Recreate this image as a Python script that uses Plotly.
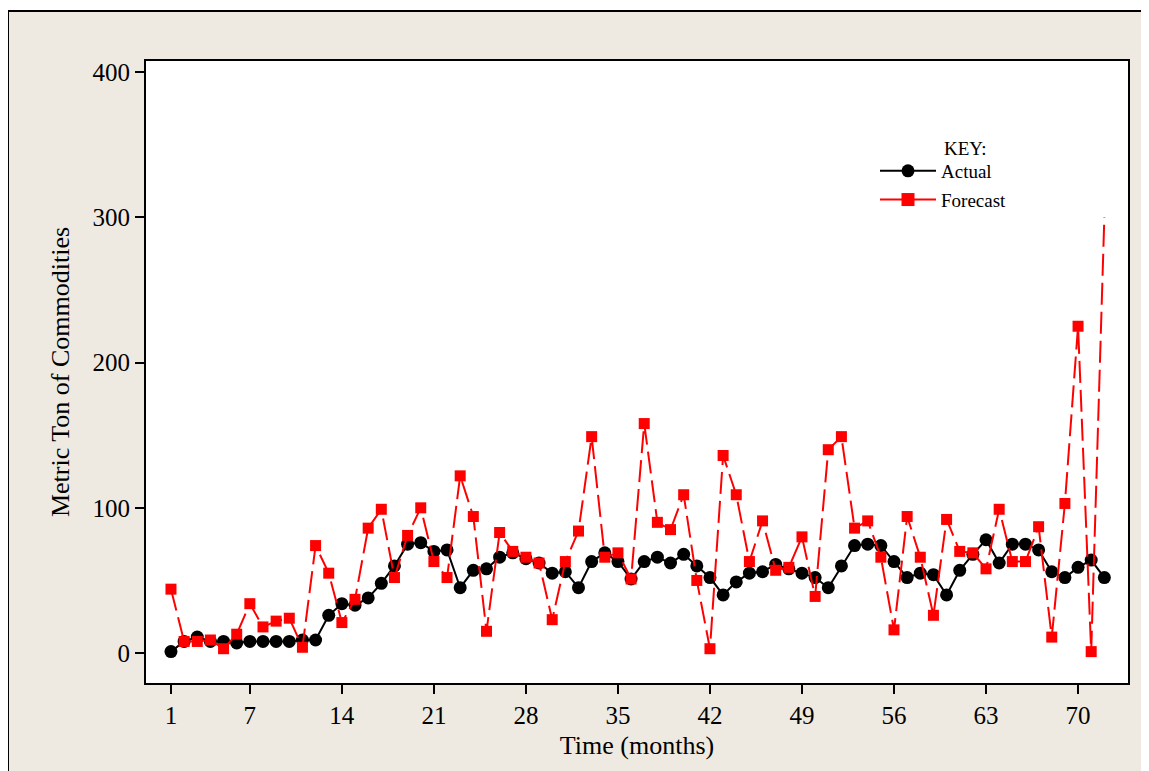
import plotly.graph_objects as go

months = list(range(1, 73))
actual = [1, 8, 11, 8, 8, 7, 8, 8, 8, 8, 9, 9,
          26, 34, 33, 38, 48, 60, 75, 76, 70, 71, 45, 57,
          58, 66, 69, 65, 62, 55, 56, 45, 63, 69, 63, 51,
          63, 66, 62, 68, 60, 52, 40, 49, 55, 56, 61, 58,
          55, 52, 45, 60, 74, 75, 74, 63, 52, 55, 54, 40,
          57, 68, 78, 62, 75, 75, 71, 56, 52, 59, 64, 52]
forecast = [44, 8, 8, 9, 3, 13, 34, 18, 22, 24, 4, 74,
            55, 21, 37, 86, 99, 52, 81, 100, 63, 52, 122, 94,
            15, 83, 70, 66, 62, 23, 63, 84, 149, 66, 69, 51,
            158, 90, 85, 109, 50, 3, 136, 109, 63, 91, 57, 59,
            80, 39, 140, 149, 86, 91, 66, 16, 94, 66, 26, 92,
            70, 69, 58, 99, 63, 63, 87, 11, 103, 225, 1, 300]
x_ticks = [1, 7, 14, 21, 28, 35, 42, 49, 56, 63, 70]
y_ticks = [0, 100, 200, 300, 400]

FONT = "Liberation Serif, Times New Roman, serif"
BEIGE = "#EEEAE1"
RED = "#FF0000"

fig = go.Figure()
fig.add_trace(go.Scatter(
    x=months, y=actual, name="Actual", mode="lines+markers",
    line=dict(color="black", width=2),
    marker=dict(symbol="circle", size=13, color="black", line=dict(width=0)),
    legendgroup="a",
))
fsizes = [11] * (len(forecast) - 1) + [0]
fig.add_trace(go.Scatter(
    x=months, y=forecast, name="Forecast", mode="lines+markers",
    line=dict(color=RED, width=2, dash="22px,7px"),
    marker=dict(symbol="square", size=fsizes, color=RED, opacity=1, line=dict(width=0)),
    legendgroup="f", showlegend=False,
))
# legend-only entry (solid key line like the original)
fig.add_trace(go.Scatter(
    x=[None], y=[None], name="Forecast", mode="lines+markers",
    line=dict(color=RED, width=2),
    marker=dict(symbol="square", size=13, color=RED, line=dict(width=0)),
    legendgroup="f",
))

OFF = 8  # page body margin
L, T = 138, 53
pw, ph = 1120 - 138, 675 - 53
W, H = 1170, 790
R, B = W - L - pw, H - T - ph

def px(xp):
    return (xp - OFF - L) / pw

def py(yp):
    return (T + ph - (yp - OFF)) / ph

fig.update_layout(
    width=W, height=H,
    margin=dict(l=L, r=R, t=T, b=B),
    paper_bgcolor=BEIGE, plot_bgcolor="white",
    font=dict(family=FONT, color="black"),
    showlegend=True,
    legend=dict(
        x=px(875), y=py(152), xanchor="left", yanchor="top",
        bgcolor="rgba(0,0,0,0)", font=dict(size=19, family=FONT),
        itemwidth=56, tracegroupgap=1, traceorder="grouped",
    ),
    xaxis=dict(
        range=[-0.9, 73.8], tickvals=x_ticks, ticktext=[str(v) for v in x_ticks],
        showline=True, linecolor="black", linewidth=2, mirror=True,
        ticks="outside", ticklen=9, tickwidth=2, tickcolor="black",
        showgrid=False, zeroline=False,
        tickfont=dict(size=25, family=FONT),
        title=dict(text="Time (months)", font=dict(size=26, family=FONT), standoff=8),
    ),
    yaxis=dict(
        range=[-20.6, 407.6], tickvals=y_ticks,
        showline=True, linecolor="black", linewidth=2, mirror=True,
        ticks="outside", ticklen=9, tickwidth=2, tickcolor="black",
        showgrid=False, zeroline=False,
        tickfont=dict(size=25, family=FONT),
        title=dict(text="Metric Ton of Commodities", font=dict(size=26, family=FONT), standoff=15),
    ),
    annotations=[dict(
        text="KEY:", xref="paper", yref="paper", x=px(942), y=py(148),
        xanchor="left", yanchor="middle", showarrow=False,
        font=dict(size=19, family=FONT),
    )],
    shapes=[
        dict(type="rect", xref="paper", yref="paper",
             x0=px(-20), x1=px(1250), y0=py(-20), y1=py(11),
             fillcolor="white", line=dict(width=0), layer="above"),
        dict(type="rect", xref="paper", yref="paper",
             x0=px(-20), x1=px(8), y0=py(-20), y1=py(850),
             fillcolor="white", line=dict(width=0), layer="above"),
        dict(type="line", xref="paper", yref="paper",
             x0=px(8), x1=px(1250), y0=py(11), y1=py(11),
             line=dict(color="black", width=2)),
        dict(type="line", xref="paper", yref="paper",
             x0=px(8), x1=px(8), y0=py(11), y1=py(850),
             line=dict(color="black", width=2)),
    ],
)

fig.write_html("out.html")
